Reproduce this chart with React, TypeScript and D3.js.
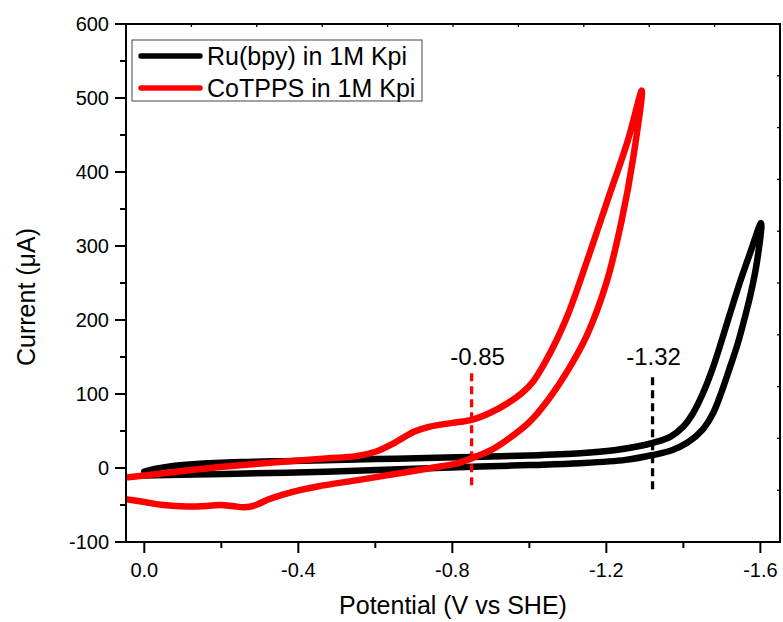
import React from "react";
import * as d3 from "d3";

// Cyclic voltammograms: potential (V vs SHE) and current (µA), traced as closed loops
// (forward scan toward negative potential, then the return scan).
const rubpyPotential = [
  0.0, -0.03, -0.07, -0.127, -0.25, -0.386, -0.6, -0.81, -1.0, -1.132, -1.22, -1.28, -1.321,
  -1.366, -1.4, -1.425, -1.45, -1.477, -1.516, -1.545, -1.573, -1.602,
  -1.591, -1.576, -1.558, -1.54, -1.521, -1.5, -1.477, -1.45, -1.41, -1.37, -1.321, -1.25,
  -1.132, -1.0, -0.872, -0.7, -0.47, -0.21, -0.1, 0.0,
];
const rubpyCurrent = [
  -5, -1, 2.5, 5, 8, 9.5, 12, 14.5, 17, 20, 24, 29, 34,
  42, 56, 74, 100, 136, 200, 248, 290, 331,
  278, 238, 200, 166, 136, 104, 74, 52, 34, 24, 17.5, 11,
  6.5, 4, 2, -1, -5, -8, -9, -10,
];

const cotppsPotential = [
  0.05, 0.0, -0.1, -0.212, -0.35, -0.472, -0.55, -0.6, -0.65, -0.7, -0.742, -0.8,
  -0.85, -0.9, -0.942, -0.98, -1.01, -1.04, -1.07, -1.1, -1.15, -1.202, -1.256, -1.292,
  -1.27, -1.24, -1.2, -1.15, -1.1, -1.05, -1.0, -0.942, -0.9,
  -0.85, -0.81, -0.768, -0.687, -0.558, -0.45, -0.404, -0.36, -0.32, -0.29, -0.26, -0.23,
  -0.2, -0.17, -0.11, -0.05, 0.0, 0.05,
];
const cotppsCurrent = [
  -13, -10, -4, 2, 8, 13, 16, 22, 34, 49, 56, 61,
  65, 75, 87, 101, 117, 142, 172, 207, 280, 360, 443, 510,
  420, 335, 250, 180, 132, 93, 62, 38, 24,
  13, 6, 2, -5, -16, -25, -30, -36, -43, -50, -53, -51.5,
  -50, -51, -52, -50, -46, -42,
];

// Onset-potential markers
const onsetPotentials = [-0.85, -1.32];
const onsetLabels = ["-0.85", "-1.32"];
const onsetTop = [128, 122.5];
const onsetBottom = [-25, -29];
const onsetColors = ["#ff0000", "#000000"];

const legendLabels = ["Ru(bpy) in 1M Kpi", "CoTPPS in 1M Kpi"];
const seriesColors = ["#000000", "#ff0000"];

const xMajorTicks = [0, -0.4, -0.8, -1.2, -1.6];
const xMinorTicks = [-0.2, -0.6, -1.0, -1.4];
const yMajorTicks = [-100, 0, 100, 200, 300, 400, 500, 600];
const yMinorTicks = [-50, 50, 150, 250, 350, 450, 550];

const W = 783;
const H = 622;
const left = 126;
const right = 780;
const top = 24;
const bottom = 542;
const FONT = "'Liberation Sans', Arial, Helvetica, sans-serif";

export default function App() {
  const x = d3.scaleLinear().domain([0.0475, -1.651]).range([left, right]);
  const y = d3.scaleLinear().domain([-100, 600]).range([bottom, top]);
  // opposite-side frame ticks split the frame into ten equal parts
  const topScale = d3.scaleLinear().domain([0, 10]).range([left, right]);
  const rightScale = d3.scaleLinear().domain([0, 10]).range([top, bottom]);
  const frameTicks = d3.range(1, 10);

  const line = d3
    .line<[number, number]>()
    .x((d) => x(d[0]))
    .y((d) => y(d[1]))
    .curve(d3.curveCatmullRom.alpha(0.5));

  const series = [
    d3.zip(rubpyPotential, rubpyCurrent) as [number, number][],
    d3.zip(cotppsPotential, cotppsCurrent) as [number, number][],
  ];

  return (
    <svg
      width={W}
      height={H}
      style={{ position: "absolute", left: 0, top: 0, background: "#fff" }}
      fontFamily={FONT}
    >
      <defs>
        <clipPath id="plot-area">
          <rect x={left} y={top} width={right - left} height={bottom - top} />
        </clipPath>
      </defs>

      {/* curves */}
      <g clipPath="url(#plot-area)">
        {series.map((pts, i) => (
          <path
            key={i}
            d={line(pts) || ""}
            fill="none"
            stroke={seriesColors[i]}
            strokeWidth={6.5}
            strokeLinecap="round"
            strokeLinejoin="round"
          />
        ))}
      </g>

      {/* onset markers */}
      {onsetPotentials.map((v, i) => (
        <g key={i}>
          <line
            x1={x(v)}
            x2={x(v)}
            y1={y(onsetTop[i])}
            y2={y(onsetBottom[i])}
            stroke={onsetColors[i]}
            strokeWidth={3.3}
            strokeDasharray="8,5"
          />
          <text
            x={x(v) + (i === 0 ? 6 : 1)}
            y={365}
            textAnchor="middle"
            fontSize={24}
            fill="#000"
          >
            {onsetLabels[i]}
          </text>
        </g>
      ))}

      {/* frame */}
      <rect
        x={left}
        y={top}
        width={right - left}
        height={bottom - top}
        fill="none"
        stroke="#000"
        strokeWidth={2}
      />
      {frameTicks.map((t) => (
        <line key={"t" + t} x1={topScale(t)} x2={topScale(t)} y1={top} y2={top + 3} stroke="#000" strokeWidth={1.3} />
      ))}
      {frameTicks.map((t) => (
        <line key={"r" + t} x1={right} x2={right - 3} y1={rightScale(t)} y2={rightScale(t)} stroke="#000" strokeWidth={1.3} />
      ))}

      {/* bottom axis */}
      {xMajorTicks.map((t) => (
        <g key={"xm" + t}>
          <line x1={x(t)} x2={x(t)} y1={bottom} y2={bottom + 11} stroke="#000" strokeWidth={2} />
          <text x={x(t)} y={577} textAnchor="middle" fontSize={20} fill="#000">
            {t.toFixed(1)}
          </text>
        </g>
      ))}
      {xMinorTicks.map((t) => (
        <line key={"xn" + t} x1={x(t)} x2={x(t)} y1={bottom} y2={bottom + 6} stroke="#000" strokeWidth={2} />
      ))}

      {/* left axis */}
      {yMajorTicks.map((t) => (
        <g key={"ym" + t}>
          <line x1={left} x2={left - 11} y1={y(t)} y2={y(t)} stroke="#000" strokeWidth={2} />
          <text x={109} y={y(t) + 7} textAnchor="end" fontSize={20} fill="#000">
            {String(t)}
          </text>
        </g>
      ))}
      {yMinorTicks.map((t) => (
        <line key={"yn" + t} x1={left} x2={left - 6} y1={y(t)} y2={y(t)} stroke="#000" strokeWidth={2} />
      ))}

      {/* axis titles */}
      <text x={(left + right) / 2} y={614} textAnchor="middle" fontSize={25} fill="#000">
        Potential (V vs SHE)
      </text>
      <text
        transform={`translate(35, 297) rotate(-90)`}
        textAnchor="middle"
        fontSize={25}
        fill="#000"
      >
        Current (μA)
      </text>

      {/* legend */}
      <rect x={132} y={40} width={290} height={61} fill="#fff" stroke="#444" strokeWidth={1} />
      {legendLabels.map((label, i) => (
        <g key={label}>
          <line
            x1={141}
            x2={200}
            y1={56 + i * 32}
            y2={56 + i * 32}
            stroke={seriesColors[i]}
            strokeWidth={5.5}
            strokeLinecap="round"
          />
          <text x={207} y={65 + i * 31.5} fontSize={25} fill="#000">
            {label}
          </text>
        </g>
      ))}
    </svg>
  );
}
